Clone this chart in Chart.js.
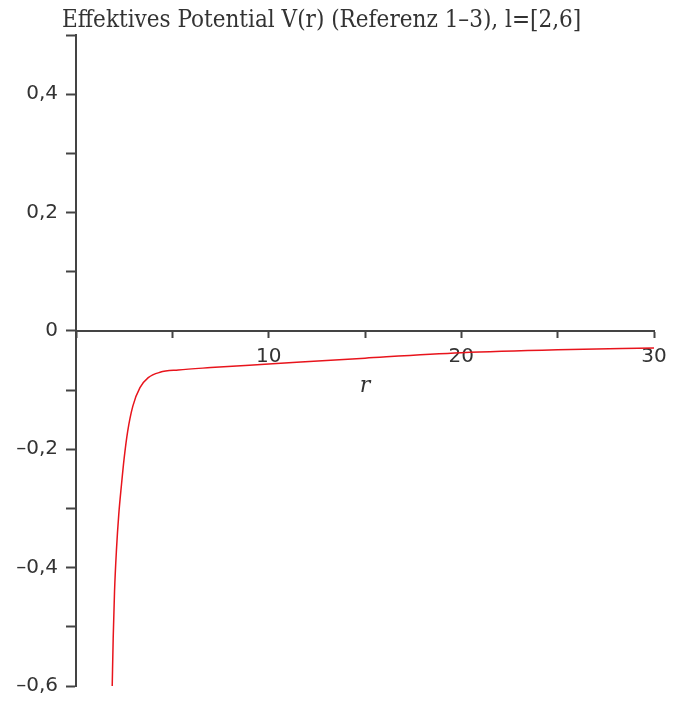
<!DOCTYPE html>
<html>
<head>
<meta charset="utf-8">
<script src="https://cdn.jsdelivr.net/npm/chart.js@4/dist/chart.umd.min.js"></script>
<style>
  html, body { margin: 0; padding: 0; background: #fff; }
</style>
</head>
<body>
<canvas id="chart" width="680" height="707"></canvas>
<script>
// data
const rValues = [1.88, 1.93, 2.00, 2.10, 2.22, 2.36, 2.50, 2.68, 2.95, 3.32, 3.75, 4.36, 5.31, 7, 10, 15, 20, 25, 30];
const vValues = [-0.60, -0.52, -0.44, -0.37, -0.31, -0.26, -0.215, -0.17, -0.127, -0.096, -0.079, -0.070, -0.066, -0.062, -0.056, -0.046, -0.037, -0.032, -0.029];
const xLabelled = [10, 20, 30];
const yLabelled = [-0.6, -0.4, -0.2, 0, 0.2, 0.4];
const titleText = 'Effektives Potential V(r) (Referenz 1\u20133), l=[2,6]';

const axisColor = '#444';
const tickFont = { family: 'DejaVu Sans', size: 20 };

// Maple style: comma decimal, dash for minus
function fmtY(v) {
    const r = Math.round(v * 10) / 10;
    if (r === 0) return '0';
    return (r < 0 ? '\u2013' : '') + Math.abs(r).toFixed(1).replace('.', ',');
}

// plot title sits left of centre in the original, so draw it by hand
const titlePlugin = {
    id: 'maple-title',
    afterDraw(chart) {
        const ctx = chart.ctx;
        ctx.save();
        ctx.font = '24px "DejaVu Serif Condensed"';
        ctx.fillStyle = '#333';
        ctx.textBaseline = 'alphabetic';
        ctx.fillText(titleText, 62, 27);
        ctx.restore();
    }
};

const points = rValues.map((r, i) => ({ x: r, y: vValues[i] }));

new Chart(document.getElementById('chart'), {
    type: 'scatter',
    data: {
        datasets: [{
            data: points,
            showLine: true,
            borderColor: '#e8141c',
            borderWidth: 1.5,
            pointRadius: 0,
            cubicInterpolationMode: 'monotone'
        }]
    },
    options: {
        responsive: false,
        animation: false,
        devicePixelRatio: 1,
        layout: { padding: { left: 10, right: 26, top: 35, bottom: 21 } },
        scales: {
            x: {
                type: 'linear',
                min: 0,
                max: 30,
                position: { y: 0 },   // x axis crosses at V = 0
                border: { color: axisColor, width: 2 },
                grid: { drawOnChartArea: false, tickLength: 6, tickColor: axisColor, tickWidth: 2 },
                ticks: {
                    stepSize: 5,
                    color: '#333',
                    font: tickFont,
                    padding: 8,
                    maxRotation: 0,
                    callback: v => xLabelled.includes(v) ? String(v) : ''
                },
                title: {
                    display: true,
                    text: 'r',
                    color: '#333',
                    font: { family: 'DejaVu Serif', style: 'italic', size: 22 },
                    padding: { top: 0, bottom: -69 }
                },
                afterFit: s => { s.height = 0; }
            },
            y: {
                type: 'linear',
                min: -0.6,
                max: 0.5,
                position: 'left',
                border: { color: axisColor, width: 2 },
                grid: { drawOnChartArea: false, tickLength: 10, tickColor: axisColor, tickWidth: 2 },
                ticks: {
                    stepSize: 0.1,
                    color: '#333',
                    font: tickFont,
                    padding: 8,
                    callback: v => yLabelled.some(t => Math.abs(t - v) < 1e-6) ? fmtY(v) : ''
                },
                afterFit: s => { s.width = 66; }
            }
        },
        plugins: {
            legend: { display: false },
            tooltip: { enabled: false }
        }
    },
    plugins: [titlePlugin]
});
</script>
</body>
</html>
